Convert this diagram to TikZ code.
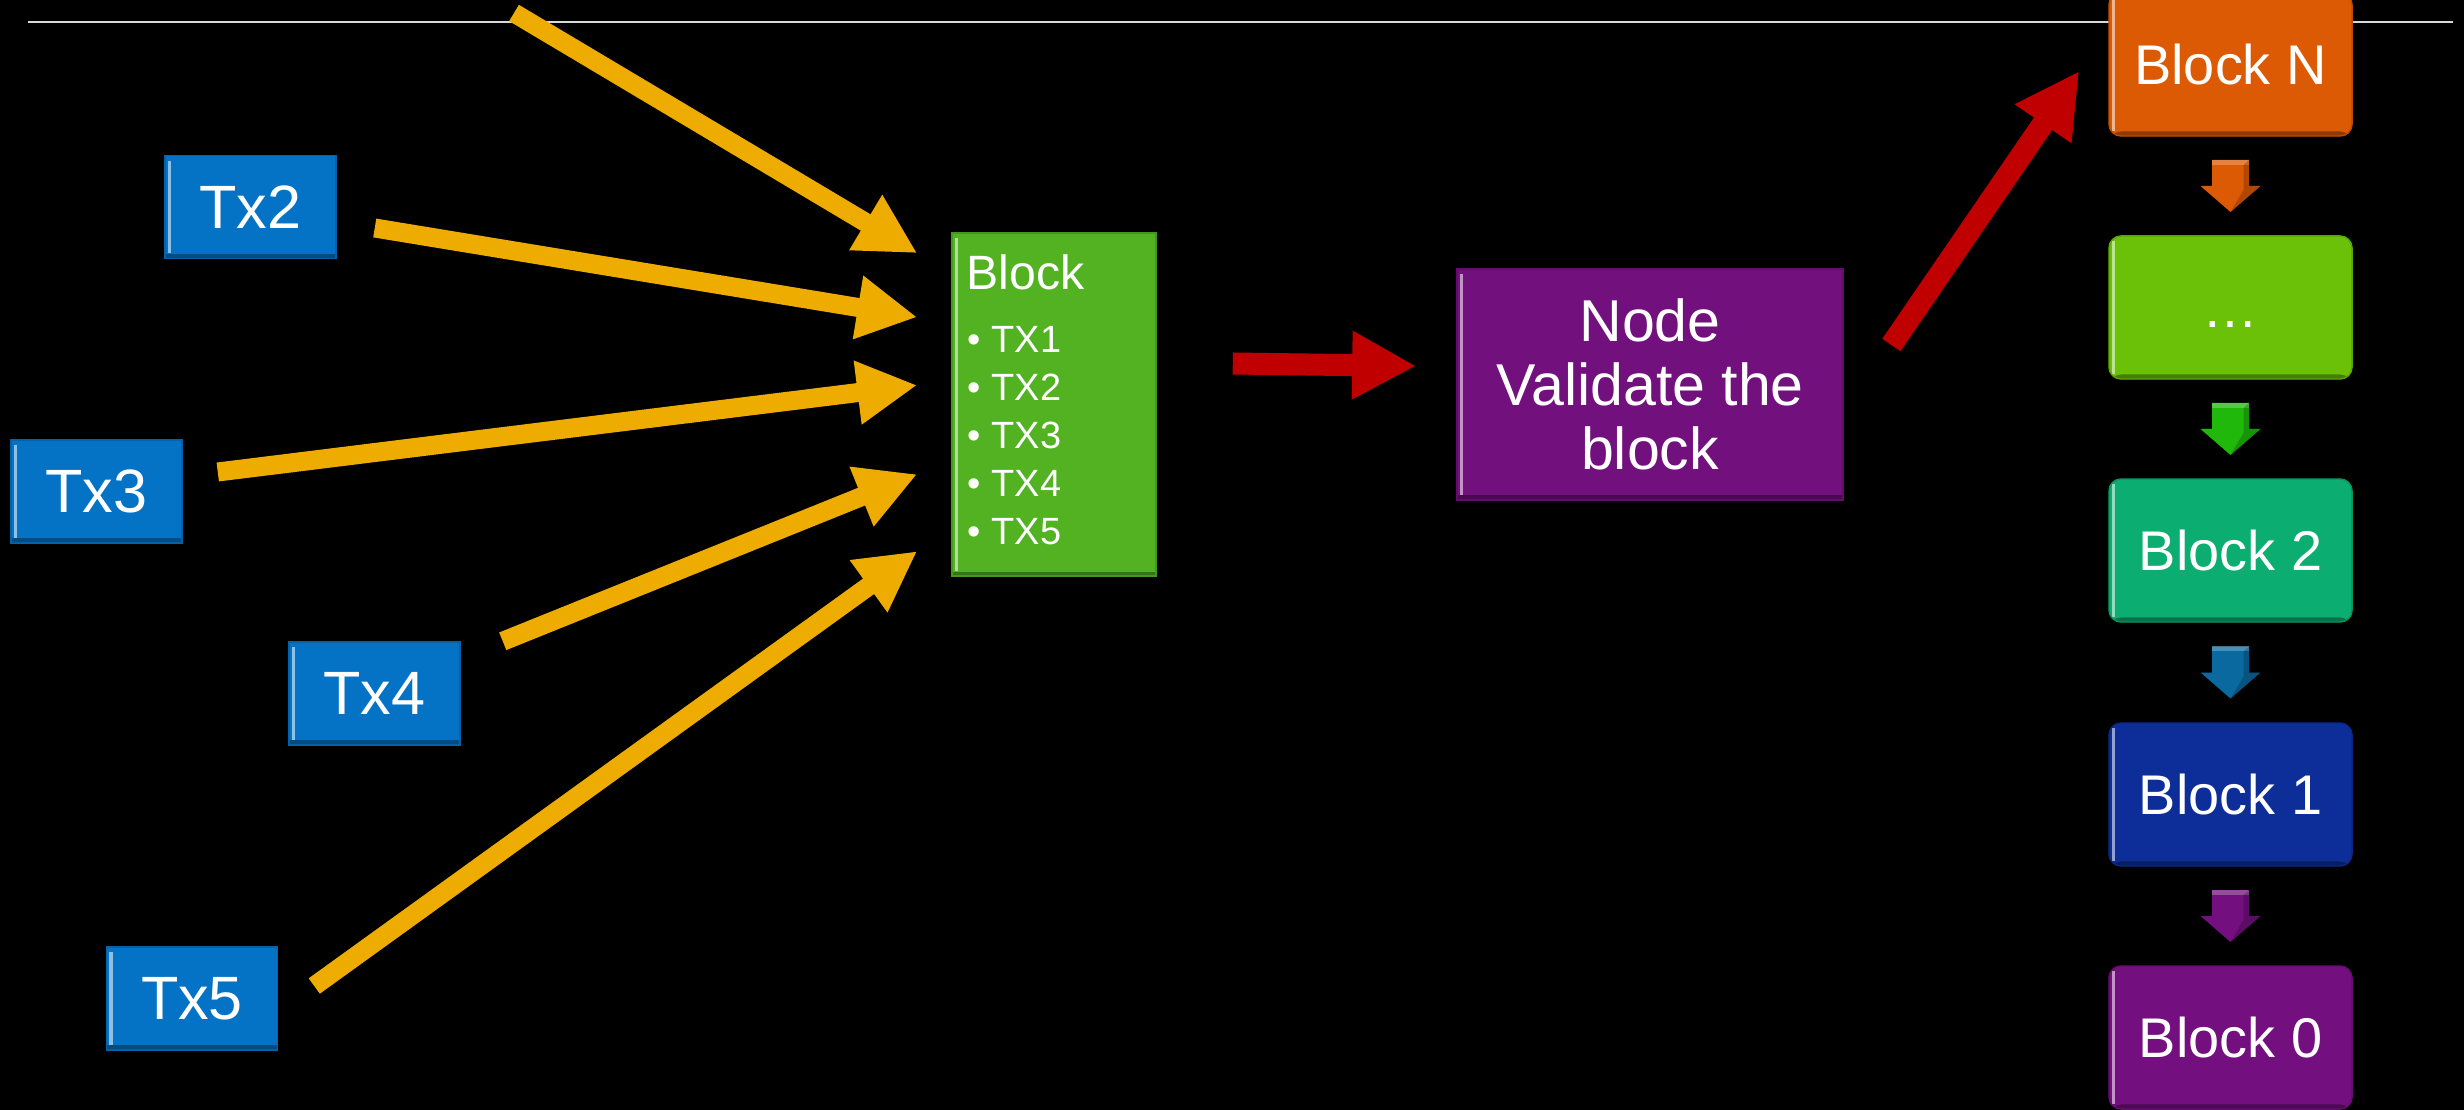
\documentclass[tikz,border=0pt]{standalone}
\usepackage{fontspec}
\setmainfont{Liberation Sans}
\usetikzlibrary{arrows.meta,calc}

\definecolor{txblue}{HTML}{0473C6}
\definecolor{blkgreen}{HTML}{52B222}
\definecolor{nodepurple}{HTML}{72107E}
\definecolor{chorange}{HTML}{DC5A04}
\definecolor{chlime}{HTML}{6AC108}
\definecolor{chteal}{HTML}{0BAE70}
\definecolor{chblue}{HTML}{0D2E98}
\definecolor{chpurple}{HTML}{740F80}
\definecolor{dgreen}{HTML}{20B80A}
\definecolor{dblue}{HTML}{0A6AA0}
\definecolor{txarrow}{HTML}{EFAC00}
\definecolor{redarrow}{HTML}{C00000}

\tikzset{
  bevel/.style={fill=#1, draw=#1!85!black, line width=0.4pt,
    path picture={
      \draw[#1!45!white, line width=0.9pt]
        ([xshift=1.3pt,yshift=-1.5pt]path picture bounding box.north west) --
        ([xshift=1.3pt,yshift=1.5pt]path picture bounding box.south west);
      \fill[#1!65!black]
        ([yshift=1.3pt]path picture bounding box.south west) rectangle
        (path picture bounding box.south east);
    }},
  txbox/.style={bevel=txblue, rectangle, minimum width=1.71cm,
    minimum height=1.03cm, inner sep=0pt, text=white,
    font=\fontsize{17.4}{20}\selectfont},
  blockbox/.style={bevel=blkgreen, rectangle, minimum width=2.04cm,
    minimum height=3.43cm, inner sep=0pt},
  validbox/.style={bevel=nodepurple, rectangle, minimum width=3.86cm,
    minimum height=2.31cm, inner sep=0pt, text=white, align=center,
    font=\fontsize{16.8}{18.2}\selectfont},
  chainbox/.style={bevel=#1, rectangle, rounded corners=0.12cm,
    minimum width=2.43cm, minimum height=1.43cm, inner sep=0pt,
    text=white, font=\fontsize{15.9}{19}\selectfont},
  itemtext/.style={anchor=base west, inner sep=0pt, text=white,
    font=\fontsize{10.8}{13}\selectfont},
  txlink/.style={draw=txarrow, line width=0.19cm,
    -{Triangle[width=0.6cm,length=0.6cm]}},
  redlink/.style={draw=redarrow, line width=0.22cm,
    -{Triangle[width=0.64cm,length=0.64cm]}},
  darrow/.pic={
    \path[pic actions] (-18.5,-26) -- (18.5,-26) -- (18.5,0) -- (30,0)
      -- (0,26) -- (-30,0) -- (-18.5,0) -- cycle;
    \fill[white, opacity=0.25] (-18.5,-26) rectangle (18.5,-21);
    \fill[black, opacity=0.2] (0,26) -- (30,0) -- (18.5,0) -- (18.5,-26)
      -- (13,-21) -- (13,4) -- cycle;
  }
}

\begin{document}
\begin{tikzpicture}[x=0.01cm, y=-0.01cm]
  % canvas
  \fill[black] (0,0) rectangle (2464,1110);
  \path[use as bounding box, clip] (0,0) rectangle (2464,1110);

  % title rule
  \draw[white!85!black, line width=0.02cm] (28,22) -- (2453,22);

  % transactions
  \node[txbox] (tx2) at (250.5,207) {Tx2};
  \node[txbox] (tx3) at (96.5,491.5) {Tx3};
  \node[txbox] (tx4) at (374.5,693.5) {Tx4};
  \node[txbox] (tx5) at (192,998.5) {Tx5};

  % block being assembled
  \node[blockbox] (blk) at (1054,404.5) {};
  \node[anchor=base west, inner sep=0pt, text=white,
        font=\fontsize{13.7}{16}\selectfont] (blktitle) at (966,290) {Block};
  \node[itemtext] (it1) at (966.5,353) {•\hspace{3.2pt}TX1};
  \node[itemtext] (it2) at (966.5,401) {•\hspace{3.2pt}TX2};
  \node[itemtext] (it3) at (966.5,449) {•\hspace{3.2pt}TX3};
  \node[itemtext] (it4) at (966.5,497) {•\hspace{3.2pt}TX4};
  \node[itemtext] (it5) at (966.5,545) {•\hspace{3.2pt}TX5};

  % validating node
  \node[validbox] (pv) at (1650,384.5) {Node\\Validate the\\block};

  % chain of blocks
  \node[chainbox=chorange] (bN) at (2230.5,64.5) {\vphantom{Bk}Block N};
  \node[chainbox=chlime]   (bdots) at (2230.5,307.5) {\vphantom{Bk}…};
  \node[chainbox=chteal]   (b2) at (2230.5,550.5) {\vphantom{Bk}Block 2};
  \node[chainbox=chblue]   (b1) at (2230.5,794.5) {\vphantom{Bk}Block 1};
  \node[chainbox=chpurple] (b0) at (2230.5,1037.5) {\vphantom{Bk}Block 0};

  \pic[fill=chorange] at ($(bN.south)!0.5!(bdots.north)$) {darrow};
  \pic[fill=dgreen]   at ($(bdots.south)!0.5!(b2.north)$) {darrow};
  \pic[fill=dblue]    at ($(b2.south)!0.5!(b1.north)$) {darrow};
  \pic[fill=chpurple] at ($(b1.south)!0.5!(b0.north)$) {darrow};

  % transactions flowing into the block
  \coordinate (tx1in) at (514,13);
  \draw[txlink] (tx1in) -- ([shift={(-34,21)}]blk.north west);
  \draw[txlink] ([shift={(38,21)}]tx2.east) -- ([shift={(-34,85)}]blk.north west);
  \draw[txlink] ([shift={(35,-19.5)}]tx3.east) -- ([shift={(-34,153)}]blk.north west);
  \draw[txlink] ([shift={(42,0)}]tx4.north east) -- ([shift={(-34,242)}]blk.north west);
  \draw[txlink] ([shift={(36,-12.5)}]tx5.east) -- ([shift={(-34,319)}]blk.north west);

  % block to validator, validator to chain
  \draw[redlink] ([shift={(76,-41)}]blk.east) -- ([shift={(-40,-18.5)}]pv.west);
  \draw[redlink] ([shift={(47.5,-39.5)}]pv.east) -- ([shift={(-29,6.5)}]bN.west);
\end{tikzpicture}
\end{document}
